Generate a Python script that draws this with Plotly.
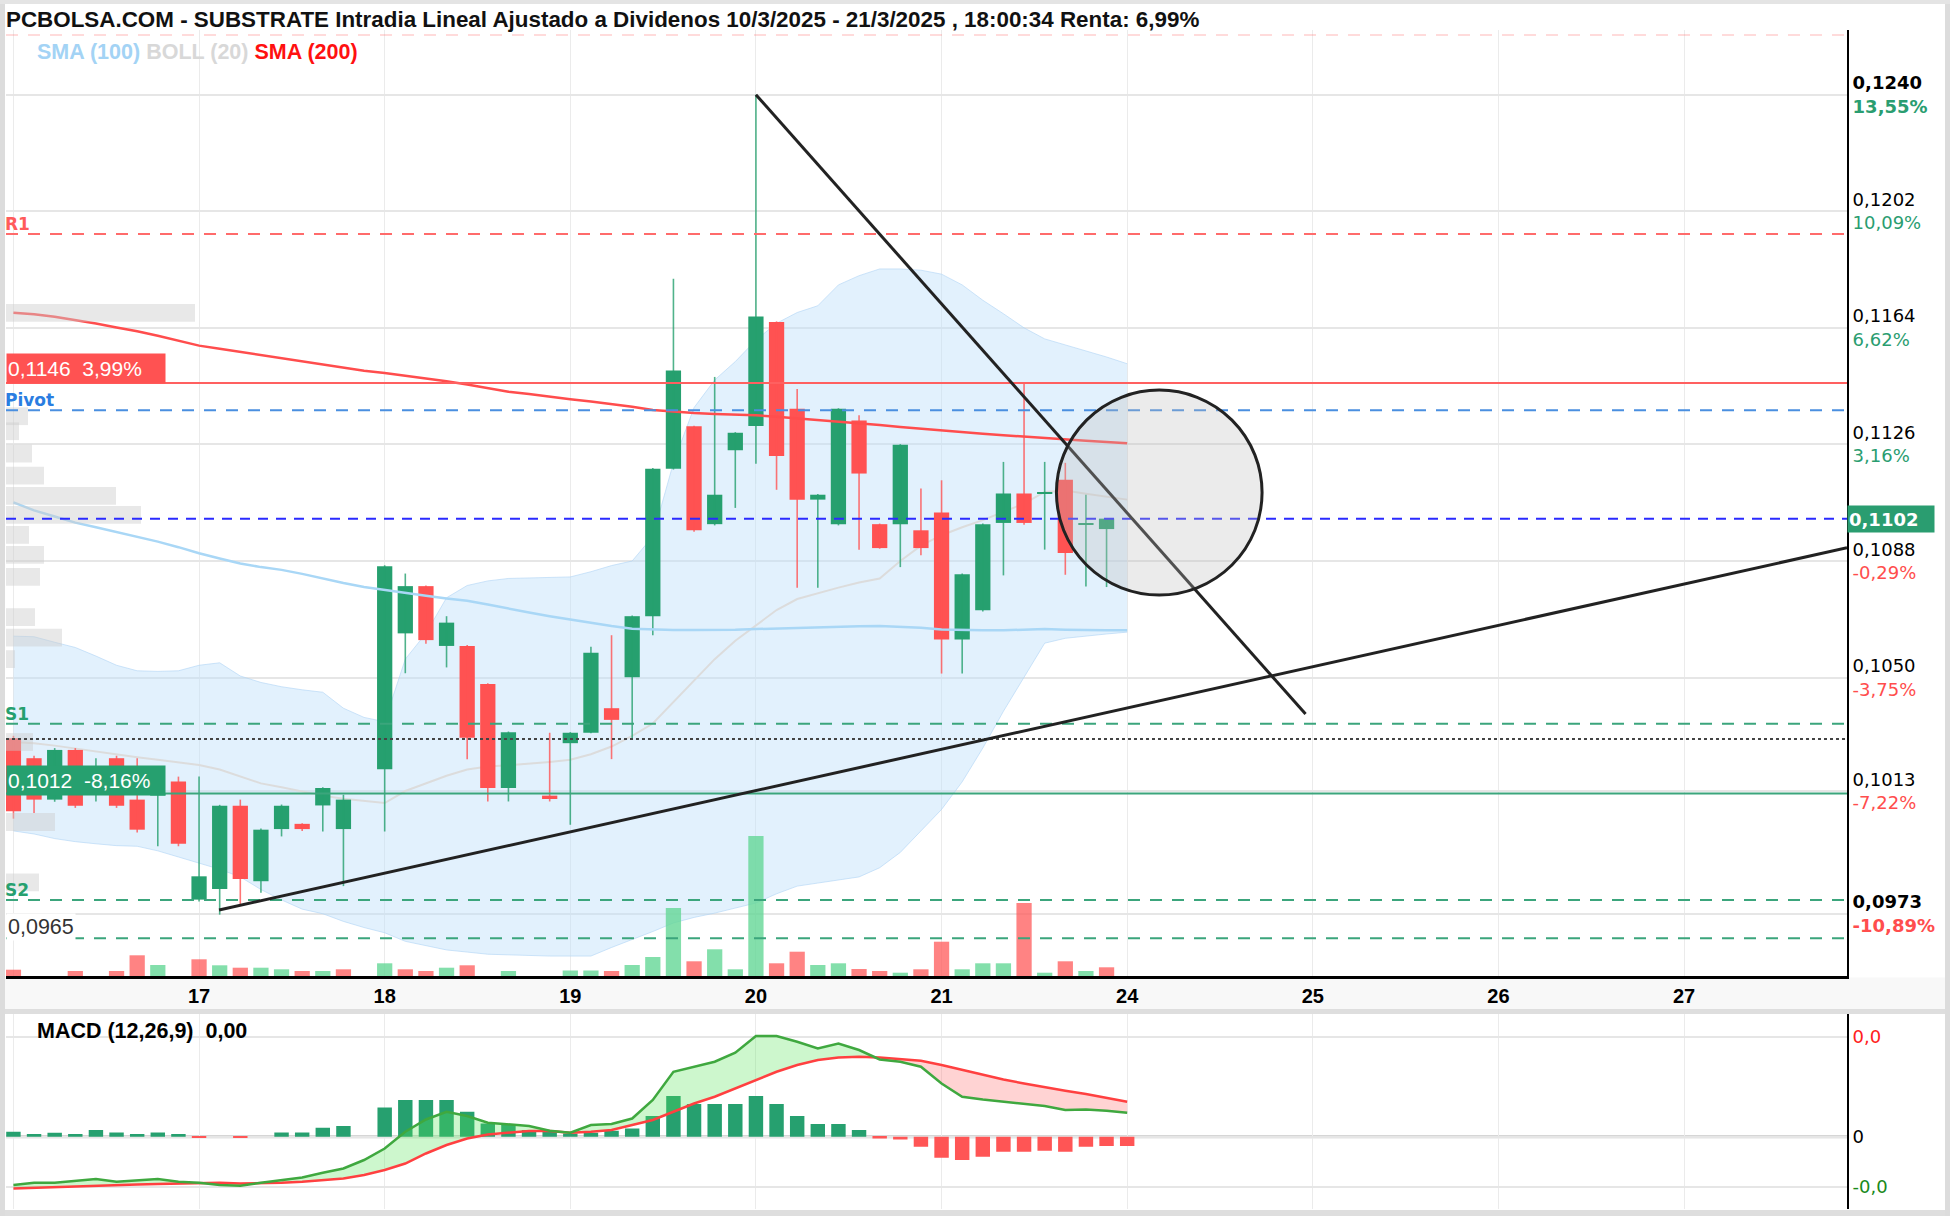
import plotly.graph_objects as go

# ---------------------------------------------------------------- data
title_text = ("PCBOLSA.COM - SUBSTRATE Intradia Lineal Ajustado a Dividenos "
              "10/3/2025 - 21/3/2025 , 18:00:34 Renta: 6,99%")
day_labels = ["", "17", "18", "19", "20", "21", "24", "25", "26", "27"]
candles_per_day = 9

# hourly candles: day 14 (0-8), 17 (9-17), 18, 19, 20, 21 (45-53); None = no trade
opens = [0.10302, 0.10237, 0.10102, 0.10264, 0.10170, 0.10237, 0.10102, 0.10115, 0.10161,
         0.09776, 0.09811, 0.10082, 0.09836, 0.10006, 0.10023, 0.10083, 0.10006, None,
         0.10201, 0.10644, 0.10798, 0.10603, 0.10603, 0.10479, 0.10140, None, 0.10115,
         0.10286, 0.10320, 0.10400, 0.10501, 0.10700, 0.11181, 0.11319, 0.11000, 0.11241,
         0.11320, 0.11659, 0.11376, 0.11080, 0.11000, 0.11338, 0.11000, 0.11000, 0.10980,
         0.11038, 0.10624, 0.10719, 0.11004, 0.11100, 0.11100, 0.11145, 0.11000, 0.10984]
highs = [0.10310, 0.10245, 0.10270, 0.10270, 0.10237, 0.10245, 0.10237, 0.10145, 0.10177,
         0.10177, 0.10085, 0.10102, 0.10008, 0.10086, 0.10025, 0.10142, 0.10118, None,
         0.10866, 0.10839, 0.10800, 0.10700, 0.10606, 0.10481, 0.10324, None, 0.10320,
         0.10322, 0.10600, 0.10638, 0.10702, 0.11183, 0.11800, 0.11321, 0.11480, 0.11300,
         0.12400, 0.11661, 0.11441, 0.11098, 0.11378, 0.11355, 0.11002, 0.11261, 0.11116,
         0.11143, 0.10839, 0.11002, 0.11203, 0.11460, 0.11203, 0.11200, 0.11096, 0.11020]
lows = [0.10040, 0.10058, 0.10095, 0.10075, 0.10096, 0.10075, 0.09995, 0.09950, 0.09950,
        0.09770, 0.09727, 0.09760, 0.09798, 0.09982, 0.10000, 0.09998, 0.09820, None,
        0.09998, 0.10514, 0.10610, 0.10533, 0.10234, 0.10096, 0.10096, None, 0.10096,
        0.10020, 0.10318, 0.10234, 0.10302, 0.10638, 0.11178, 0.10975, 0.10996, 0.11053,
        0.11197, 0.11112, 0.10793, 0.10793, 0.10996, 0.10917, 0.10920, 0.10860, 0.10899,
        0.10513, 0.10513, 0.10715, 0.10833, 0.10998, 0.10917, 0.10835, 0.10797, 0.10795]
closes = [0.10064, 0.10102, 0.10264, 0.10082, 0.10180, 0.10082, 0.10004, 0.10122, 0.09958,
          0.09852, 0.10082, 0.09843, 0.10004, 0.10082, 0.10006, 0.10140, 0.10102, None,
          0.10863, 0.10798, 0.10622, 0.10679, 0.10304, 0.10140, 0.10322, None, 0.10104,
          0.10320, 0.10581, 0.10362, 0.10700, 0.11181, 0.11501, 0.10980, 0.11096, 0.11298,
          0.11677, 0.11222, 0.11080, 0.11096, 0.11376, 0.11165, 0.10922, 0.11259, 0.10922,
          0.10624, 0.10837, 0.11000, 0.11100, 0.11004, 0.11102, 0.10906, 0.11002, 0.11018]

# volume (thousand shares) and direction vs previous close
volumes = [6.3, 0, 0, 5, 0, 5, 20.7, 11, 0,
           16.7, 10.7, 8.3, 8.3, 6.7, 5, 5, 6.7, 0,
           12.7, 6.7, 5, 8.3, 10.7, 0, 5, 0, 0,
           5.5, 5.5, 5, 11, 19, 68, 14.7, 26.7, 6.7,
           140, 12.7, 24.3, 11, 12.7, 7, 5, 3.3, 6.7,
           34.3, 6.7, 12.7, 12.7, 73, 3.3, 14.7, 5, 8.7]
volume_dir = ["d", "", "", "d", "", "d", "d", "u", "",
              "d", "u", "d", "u", "u", "d", "u", "d", "",
              "u", "d", "d", "u", "d", "", "u", "", "",
              "u", "u", "d", "u", "u", "u", "d", "u", "u",
              "u", "d", "d", "u", "u", "d", "d", "u", "d",
              "d", "u", "u", "u", "d", "u", "d", "u", "d"]

# indicators (one more point than candles, up to the first slot of day 24)
sma100 = [0.11071, 0.11045, 0.11025, 0.11005, 0.10990, 0.10975, 0.10960, 0.10943, 0.10925,
          0.10905, 0.10888, 0.10872, 0.10860, 0.10851, 0.10838, 0.10822, 0.10808, 0.10795,
          0.10785, 0.10776, 0.10767, 0.10758, 0.10750, 0.10738, 0.10724, 0.10712, 0.10700,
          0.10689, 0.10678, 0.10668, 0.10659, 0.10656, 0.10655, 0.10655, 0.10655, 0.10656,
          0.10658, 0.10660, 0.10663, 0.10665, 0.10666, 0.10667, 0.10668, 0.10666, 0.10662,
          0.10657, 0.10655, 0.10654, 0.10654, 0.10656, 0.10658, 0.10656, 0.10654, 0.10654, 0.10654]
sma200 = [0.11689, 0.11684, 0.11676, 0.11666, 0.11654, 0.11641, 0.11629, 0.11614, 0.11597,
          0.11582, 0.11572, 0.11562, 0.11552, 0.11540, 0.11530, 0.11520, 0.11510, 0.11500,
          0.11493, 0.11484, 0.11476, 0.11466, 0.11455, 0.11443, 0.11432, 0.11424, 0.11415,
          0.11407, 0.11400, 0.11392, 0.11383, 0.11372, 0.11366, 0.11362, 0.11359, 0.11357,
          0.11355, 0.11350, 0.11345, 0.11340, 0.11335, 0.11329, 0.11323, 0.11317, 0.11311,
          0.11306, 0.11300, 0.11295, 0.11290, 0.11285, 0.11280, 0.11276, 0.11272, 0.11268, 0.11264]
boll_upper = [0.10635, 0.10633, 0.10615, 0.10598, 0.10570, 0.10540, 0.10522, 0.10520, 0.10522,
              0.10540, 0.10548, 0.10505, 0.10484, 0.10470, 0.10460, 0.10452, 0.10400, 0.10370,
              0.10356, 0.10560, 0.10644, 0.10760, 0.10800, 0.10815, 0.10823, 0.10825, 0.10826,
              0.10828, 0.10845, 0.10865, 0.10880, 0.10960, 0.11200, 0.11380, 0.11470, 0.11530,
              0.11600, 0.11655, 0.11690, 0.11712, 0.11780, 0.11810, 0.11832, 0.11832, 0.11828,
              0.11815, 0.11780, 0.11730, 0.11686, 0.11640, 0.11604, 0.11585, 0.11566, 0.11545, 0.11523]
boll_mid = [0.10290, 0.10286, 0.10278, 0.10268, 0.10259, 0.10250, 0.10240, 0.10232, 0.10224,
            0.10215, 0.10200, 0.10178, 0.10155, 0.10142, 0.10128, 0.10115, 0.10105, 0.10098,
            0.10091, 0.10130, 0.10155, 0.10180, 0.10200, 0.10210, 0.10214, 0.10219, 0.10225,
            0.10232, 0.10250, 0.10275, 0.10310, 0.10350, 0.10420, 0.10490, 0.10560, 0.10620,
            0.10670, 0.10720, 0.10756, 0.10775, 0.10793, 0.10810, 0.10823, 0.10880, 0.10930,
            0.10964, 0.10990, 0.11013, 0.11040, 0.11067, 0.11105, 0.11110, 0.11099, 0.11090, 0.11080]
boll_lower = [0.10000, 0.09990, 0.09975, 0.09965, 0.09958, 0.09952, 0.09950, 0.09935, 0.09915,
              0.09895, 0.09875, 0.09850, 0.09809, 0.09775, 0.09745, 0.09730, 0.09705, 0.09685,
              0.09668, 0.09640, 0.09625, 0.09612, 0.09605, 0.09598, 0.09596, 0.09593, 0.09592,
              0.09592, 0.09592, 0.09620, 0.09645, 0.09672, 0.09700, 0.09718, 0.09732, 0.09748,
              0.09765, 0.09795, 0.09820, 0.09830, 0.09840, 0.09850, 0.09880, 0.09930, 0.10000,
              0.10070, 0.10160, 0.10270, 0.10390, 0.10500, 0.10612, 0.10628, 0.10636, 0.10642, 0.10648]

# MACD (12,26,9) in millionths
macd_line = [-193, -184, -184, -177, -169, -180, -173, -169, -180,
             -184, -193, -196, -184, -173, -163, -144, -127, -93,
             -47, 20, 69, 100, 83, 56, 51, 43, 24,
             16, 47, 51, 73, 147, 260, 280, 300, 336,
             403, 403, 380, 353, 373, 347, 309, 300, 280,
             213, 160, 149, 140, 133, 123, 107, 109, 104, 96]
macd_signal = [-207, -204, -201, -199, -195, -193, -191, -189, -187,
               -185, -184, -187, -187, -184, -180, -173, -167, -153,
               -133, -107, -67, -33, -7, 9, 17, 23, 23,
               16, 20, 27, 47, 67, 100, 133, 160, 193,
               227, 260, 287, 307, 317, 320, 317, 309, 304,
               287, 267, 247, 229, 213, 197, 184, 171, 157, 140]
macd_hist = [20, 11, 16, 11, 27, 17, 11, 17, 11,
             -3, 0, -3, 0, 17, 17, 36, 43, 0,
             117, 147, 147, 147, 100, 53, 51, 27, 20,
             13, 16, 24, 33, 83, 163, 131, 131, 131,
             163, 131, 83, 51, 51, 27, -7, -11, -40,
             -84, -93, -80, -60, -60, -56, -60, -40, -37, -37]

# price axis labels
tick_prices = [0.1240, 0.1202, 0.1164, 0.1126, 0.1088, 0.1050, 0.1013, 0.0973]
tick_price_text = ["0,1240", "0,1202", "0,1164", "0,1126", "0,1088", "0,1050", "0,1013", "0,0973"]
tick_pct_text = ["13,55%", "10,09%", "6,62%", "3,16%", "-0,29%", "-3,75%", "-7,22%", "-10,89%"]

# volume profile (left side)
profile_prices = [0.11689, 0.11352, 0.11303, 0.11230, 0.11158, 0.11092, 0.11030, 0.10965,
                  0.10900, 0.10828, 0.10697, 0.10630, 0.10560, 0.10290, 0.10029, 0.09832]
profile_volume = [189, 22, 13, 26, 38, 110, 135, 23, 38, 34, 29, 56, 9, 27, 49, 33]

# levels
level_r2 = 0.12595
level_r1 = 0.11946
level_red = 0.1146
level_pivot = 0.11371
level_last = 0.11018
level_s1 = 0.10349
level_dotted = 0.10300
level_green = 0.10122
level_s2 = 0.09775
level_s3 = 0.0965

# drawn objects (x in candle slots, y in price)
trend_down = [(36.0, 0.12400), (62.65, 0.10381)]
trend_up = [(9.97, 0.09742), (88.9, 0.10923)]
circle_box = [(50.57, 0.10769), (60.54, 0.11437)]

# ---------------------------------------------------------------- layout geometry
W, H = 1950, 1216
L, R = 6, 1847
MAIN_TOP, MAIN_BOT = 30, 976
MACD_TOP, MACD_BOT = 1014, 1209


def px(X):
    return (X - L) / (R - L)


def py(Y):
    return 1 - Y / H


GREEN = "#26a06f"
RED = "#ff5252"
SANS = "Liberation Sans, Arial, sans-serif"
VERD = "DejaVu Sans, Verdana, sans-serif"

fig = go.Figure()

# ---- Bollinger band (main subplot, bottom layer)
n_ind = len(boll_upper)
xi = list(range(n_ind))
fig.add_trace(go.Scatter(x=xi, y=boll_upper, mode="lines",
                         line=dict(color="rgba(175,212,245,0.6)", width=1),
                         hoverinfo="skip"))
fig.add_trace(go.Scatter(x=xi, y=boll_lower, mode="lines", fill="tonexty",
                         fillcolor="rgba(190,225,250,0.45)",
                         line=dict(color="rgba(175,212,245,0.6)", width=1),
                         hoverinfo="skip"))
fig.add_trace(go.Scatter(x=xi, y=boll_mid, mode="lines",
                         line=dict(color="#dcdcdc", width=2), hoverinfo="skip"))

# ---- volume profile (overlay x3)
fig.add_trace(go.Bar(y=profile_prices, x=[v * 100 for v in profile_volume], orientation="h",
                     width=0.00058, marker=dict(color="rgba(205,205,205,0.45)", line=dict(width=0)),
                     xaxis="x3", yaxis="y", hoverinfo="skip"))

# ---- volume bars (overlay y3)
vx, vy, vc = [], [], []
for i, (v, d) in enumerate(zip(volumes, volume_dir)):
    if v > 0:
        vx.append(i)
        vy.append(v * 1000)
        vc.append("rgba(100,215,150,0.8)" if d == "u" else "rgba(255,90,90,0.75)")
fig.add_trace(go.Bar(x=vx, y=vy, width=0.74, marker=dict(color=vc, line=dict(width=0)),
                     xaxis="x", yaxis="y3", hoverinfo="skip"))

# ---- candles (overlay y4)
bx, bbase, bh, bc = [], [], [], []
wick_up_x, wick_up_y, wick_dn_x, wick_dn_y = [], [], [], []
for i, (o, h, l, c) in enumerate(zip(opens, highs, lows, closes)):
    if o is None:
        continue
    up = c >= o
    bx.append(i)
    bbase.append(min(o, c))
    bh.append(max(abs(c - o), 0.00003))
    bc.append(GREEN if up else RED)
    if up:
        wick_up_x += [i, i, None]
        wick_up_y += [l, h, None]
    else:
        wick_dn_x += [i, i, None]
        wick_dn_y += [l, h, None]
fig.add_trace(go.Bar(x=bx, y=bh, base=bbase, width=0.74,
                     marker=dict(color=bc, line=dict(width=0)),
                     xaxis="x", yaxis="y4", hoverinfo="skip"))
fig.add_trace(go.Scatter(x=wick_up_x, y=wick_up_y, mode="lines",
                         line=dict(color="rgba(38,160,110,0.8)", width=1.6),
                         xaxis="x", yaxis="y4", hoverinfo="skip"))
fig.add_trace(go.Scatter(x=wick_dn_x, y=wick_dn_y, mode="lines",
                         line=dict(color="rgba(255,82,82,0.8)", width=1.6),
                         xaxis="x", yaxis="y4", hoverinfo="skip"))

# ---- moving averages (over the candles)
fig.add_trace(go.Scatter(x=xi, y=sma100, mode="lines",
                         line=dict(color="#a9d7f6", width=2.5),
                         xaxis="x", yaxis="y4", hoverinfo="skip"))
fig.add_trace(go.Scatter(x=xi, y=sma200, mode="lines",
                         line=dict(color="#ff4d4d", width=2.5),
                         xaxis="x", yaxis="y4", hoverinfo="skip"))

# ---- MACD panel
hist_colors = [GREEN if v >= 0 else "#ff5555" for v in macd_hist]
fig.add_trace(go.Bar(x=xi, y=macd_hist, width=0.7, marker=dict(color=hist_colors, line=dict(width=0)),
                     xaxis="x2", yaxis="y2", hoverinfo="skip"))
upper_env = [max(m, s) for m, s in zip(macd_line, macd_signal)]
lower_env = [min(m, s) for m, s in zip(macd_line, macd_signal)]
fig.add_trace(go.Scatter(x=xi, y=macd_signal, mode="lines", line=dict(width=0),
                         xaxis="x2", yaxis="y2", hoverinfo="skip"))
fig.add_trace(go.Scatter(x=xi, y=upper_env, mode="lines", line=dict(width=0), fill="tonexty",
                         fillcolor="rgba(90,230,90,0.3)", xaxis="x2", yaxis="y2", hoverinfo="skip"))
fig.add_trace(go.Scatter(x=xi, y=macd_signal, mode="lines", line=dict(width=0),
                         xaxis="x2", yaxis="y2", hoverinfo="skip"))
fig.add_trace(go.Scatter(x=xi, y=lower_env, mode="lines", line=dict(width=0), fill="tonexty",
                         fillcolor="rgba(255,110,110,0.3)", xaxis="x2", yaxis="y2", hoverinfo="skip"))
fig.add_trace(go.Scatter(x=xi, y=macd_signal, mode="lines", line=dict(color="#ff4040", width=2.5),
                         xaxis="x2", yaxis="y2", hoverinfo="skip"))
fig.add_trace(go.Scatter(x=xi, y=macd_line, mode="lines", line=dict(color="#3fa83f", width=2.5),
                         xaxis="x2", yaxis="y2", hoverinfo="skip"))

# ---------------------------------------------------------------- axes
day_ticks = [i * candles_per_day for i in range(len(day_labels))]
x_range = [-0.36, 88.9]
y_range = [0.09527, 0.12611]

y_ticktext = []
for i, (p, pct) in enumerate(zip(tick_price_text, tick_pct_text)):
    col = "#2a9d70" if not pct.startswith("-") else "#ff4d4d"
    if i in (0, len(tick_prices) - 1):
        y_ticktext.append(f"<b>{p}</b><br><span style='color:{col}'><b>{pct}</b></span>")
    else:
        y_ticktext.append(f"{p}<br><span style='color:{col}'>{pct}</span>")

fig.update_layout(
    width=W, height=H, margin=dict(l=L, r=W - R, t=0, b=0),
    paper_bgcolor="white", plot_bgcolor="white", showlegend=False,
    barmode="overlay", hovermode=False,
    xaxis=dict(domain=[0, 1], range=x_range, tickvals=day_ticks,
               ticktext=[f"<b>{d}</b>" for d in day_labels],
               tickfont=dict(family=SANS, size=20, color="black"),
               showgrid=True, gridcolor="#ebebeb", gridwidth=1,
               showline=True, linecolor="black", linewidth=3, ticks="",
               zeroline=False, anchor="y"),
    yaxis=dict(domain=[py(MAIN_BOT), py(MAIN_TOP)], range=y_range, side="right",
               tickvals=tick_prices, ticktext=y_ticktext,
               tickfont=dict(family=VERD, size=18, color="black"),
               showgrid=True, gridcolor="#e6e6e6", gridwidth=1.5,
               showline=True, linecolor="black", linewidth=2, ticks="",
               zeroline=False, anchor="x"),
    xaxis3=dict(overlaying="x", anchor="y", range=[0, (R - L) * 100], visible=False),
    yaxis3=dict(overlaying="y", anchor="x", range=[0, (MAIN_BOT - MAIN_TOP) * 1000], visible=False),
    yaxis4=dict(overlaying="y", anchor="x", range=y_range, visible=False),
    xaxis2=dict(domain=[0, 1], range=x_range, tickvals=day_ticks, showticklabels=False,
                showgrid=True, gridcolor="#ebebeb", gridwidth=1, showline=False,
                ticks="", zeroline=False, anchor="y2"),
    yaxis2=dict(domain=[py(MACD_BOT), py(MACD_TOP)], range=[-289, 491], side="right",
                tickvals=[400, 0, -200],
                ticktext=["<span style='color:#ff2020'>0,0</span>", "0",
                          "<span style='color:#1a8a1a'>-0,0</span>"],
                tickfont=dict(family=VERD, size=18, color="black"),
                showgrid=True, gridcolor="#e6e6e6", gridwidth=2,
                showline=True, linecolor="black", linewidth=2, ticks="",
                zeroline=False, anchor="x2"),
)

# ---------------------------------------------------------------- shapes
shapes = []
# background bands (x label strip, separator, frame)
shapes.append(dict(type="rect", xref="paper", yref="paper", x0=px(0), x1=px(W),
                   y0=py(1010), y1=py(MAIN_BOT + 1.5), fillcolor="#f8f8f8", line=dict(width=0),
                   layer="below"))
shapes.append(dict(type="rect", xref="paper", yref="paper", x0=px(0), x1=px(W),
                   y0=py(MACD_TOP), y1=py(1009), fillcolor="#dedede", line=dict(width=0),
                   layer="below"))
shapes.append(dict(type="rect", xref="paper", yref="paper", x0=px(0), x1=px(W),
                   y0=py(H), y1=py(1210), fillcolor="#dedede", line=dict(width=0),
                   layer="below"))
shapes.append(dict(type="line", xref="paper", yref="paper", x0=px(2.5), x1=px(2.5),
                   y0=py(0), y1=py(H), line=dict(color="#dcdcdc", width=5), layer="below"))
shapes.append(dict(type="line", xref="paper", yref="paper", x0=px(1947.5), x1=px(1947.5),
                   y0=py(0), y1=py(H), line=dict(color="#dcdcdc", width=5), layer="below"))
shapes.append(dict(type="line", xref="paper", yref="paper", x0=px(0), x1=px(W),
                   y0=py(2), y1=py(2), line=dict(color="#e4e4e4", width=4), layer="below"))


def hline(y, color, dash="solid", width=2):
    return dict(type="line", xref="x domain", yref="y", x0=0, x1=1, y0=y, y1=y,
                line=dict(color=color, width=width, dash=dash))


shapes += [
    hline(level_r2, "rgba(255,120,120,0.35)", "12px,10px", 1.5),
    hline(level_r1, "#ff6b6b", "12px,10px", 2),
    hline(level_red, "#ff6060", "solid", 2),
    hline(level_pivot, "#4a8fe0", "12px,10px", 2),
    hline(level_last, "#2a2aff", "10px,8px", 2),
    hline(level_s1, "#3ba57c", "12px,10px", 2),
    hline(level_dotted, "#444444", "3px,3px", 2),
    hline(level_green, "#3ba57c", "solid", 2),
    hline(level_s2, "#3ba57c", "12px,10px", 2),
    hline(level_s3, "#3ba57c", "12px,10px", 2),
]
shapes.append(dict(type="line", xref="x", yref="y",
                   x0=trend_down[0][0], y0=trend_down[0][1], x1=trend_down[1][0], y1=trend_down[1][1],
                   line=dict(color="#222222", width=3)))
shapes.append(dict(type="line", xref="x", yref="y",
                   x0=trend_up[0][0], y0=trend_up[0][1], x1=trend_up[1][0], y1=trend_up[1][1],
                   line=dict(color="#222222", width=3)))
shapes.append(dict(type="circle", xref="x", yref="y",
                   x0=circle_box[0][0], y0=circle_box[0][1], x1=circle_box[1][0], y1=circle_box[1][1],
                   fillcolor="rgba(190,190,190,0.3)", line=dict(color="#222222", width=3)))
# MACD zero line
shapes.append(dict(type="line", xref="x2 domain", yref="y2", x0=0, x1=1, y0=0, y1=0,
                   line=dict(color="#c8c8c8", width=3), layer="below"))
fig.update_layout(shapes=shapes)

# ---------------------------------------------------------------- annotations
ann = []
ann.append(dict(xref="paper", yref="paper", x=px(4), y=py(19), xanchor="left", yanchor="middle",
                text=f"<b>{title_text}</b>", showarrow=False,
                font=dict(family=SANS, size=22.4, color="#111111")))
ann.append(dict(xref="paper", yref="paper", x=px(35), y=py(52), xanchor="left", yanchor="middle",
                text="<b><span style='color:#a3d3f5'>SMA (100)</span> "
                     "<span style='color:#d8d8d8'>BOLL (20)</span> "
                     "<span style='color:#ff1010'>SMA (200)</span></b>",
                showarrow=False, font=dict(family=SANS, size=21.5)))
for txt, y, col in [("R1", 224, "#ff5b5b"), ("Pivot", 400, "#2a7de1"),
                    ("S1", 714, "#26a06f"), ("S2", 890, "#26a06f")]:
    ann.append(dict(xref="paper", yref="paper", x=px(3), y=py(y), xanchor="left", yanchor="middle",
                    text=f"<b>{txt}</b>", showarrow=False,
                    font=dict(family=VERD, size=17, color=col)))
ann.append(dict(xref="paper", yref="paper", x=px(6), y=py(368.5), xanchor="left", yanchor="middle",
                text="0,1146\u00a0\u00a03,99%", showarrow=False, align="left",
                width=156, height=27, bgcolor="#ff5252", borderpad=1,
                font=dict(family=SANS, size=21, color="white")))
ann.append(dict(xref="paper", yref="paper", x=px(6), y=py(780.5), xanchor="left", yanchor="middle",
                text="0,1012\u00a0\u00a0-8,16%", showarrow=False, align="left",
                width=156, height=27, bgcolor="#26a06f", borderpad=1,
                font=dict(family=SANS, size=21, color="white")))
ann.append(dict(xref="paper", yref="paper", x=px(6), y=py(926.5), xanchor="left", yanchor="middle",
                text="0,0965", showarrow=False, bgcolor="white",
                font=dict(family=SANS, size=21.5, color="#333333")))
ann.append(dict(xref="paper", yref="paper", x=px(R), y=py(519), xanchor="left", yanchor="middle",
                text="<b>0,1102</b>", showarrow=False, align="left",
                width=84, height=24, bgcolor="#2a9d70", borderpad=1,
                font=dict(family=VERD, size=18, color="white")))
ann.append(dict(xref="paper", yref="paper", x=px(35), y=py(1031), xanchor="left", yanchor="middle",
                text="<b>MACD (12,26,9)\u00a0\u00a00,00</b>", showarrow=False,
                font=dict(family=SANS, size=21.5, color="black")))
fig.update_layout(annotations=ann)

fig.write_html("out.html")
